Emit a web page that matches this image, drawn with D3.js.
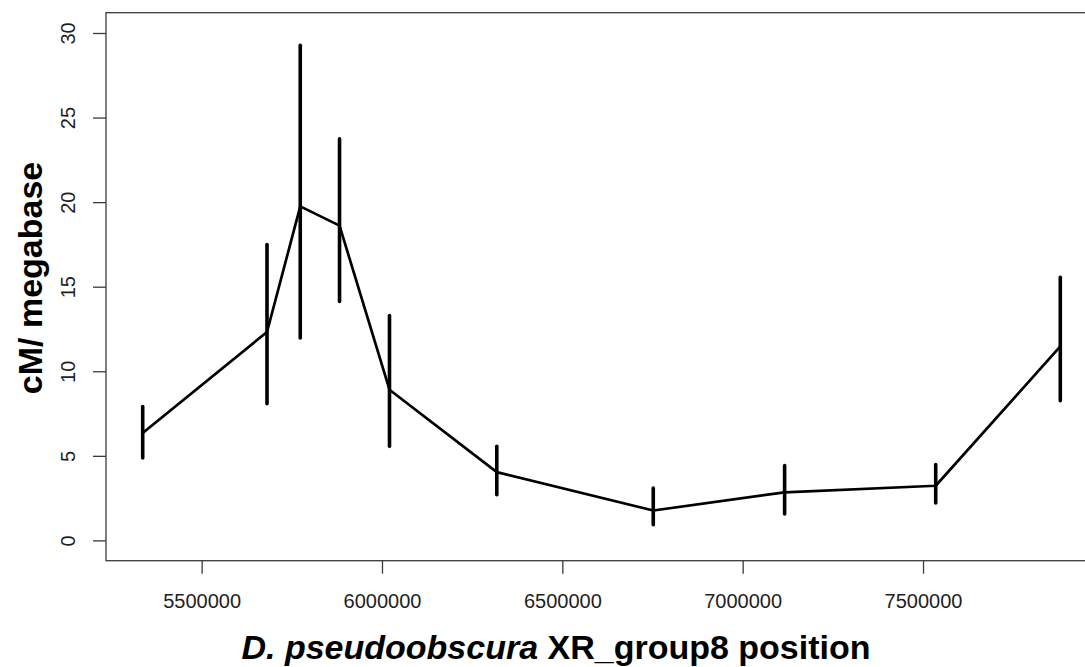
<!DOCTYPE html>
<html>
<head>
<meta charset="utf-8">
<script src="https://cdn.jsdelivr.net/npm/d3@7"></script>
<style>
  body { margin: 0; background: #fff; }
  svg { display: block; font-family: "Liberation Sans", Arial, sans-serif; }
</style>
</head>
<body>
<svg id="chart" width="1085" height="667"></svg>
<script>
// marker positions on XR_group8 (bp)
const positions = [5336600, 5681200, 5773400, 5882300, 6020800, 6318300, 6752100, 7116300, 7535200, 7880600]
// recombination rate, cM per megabase
const rate = [6.35, 12.32, 19.75, 18.61, 8.91, 4.04, 1.77, 2.84, 3.23, 11.47]
// interval ends of the error bars
const lower = [4.87, 8.08, 11.97, 14.13, 5.56, 2.70, 0.93, 1.56, 2.21, 8.26]
const upper = [7.92, 17.49, 29.27, 23.74, 13.29, 5.56, 3.10, 4.42, 4.48, 15.55]

const xTicks = [5500000, 6000000, 6500000, 7000000, 7500000]
const yTicks = [0, 5, 10, 15, 20, 25, 30]
const yLim = [0, 30]

const points = positions.map((p, i) => ({pos: p, rate: rate[i], lo: lower[i], hi: upper[i]}))

const svg = d3.select("#chart")

// plot region, like R's default 4% axis expansion
const plotLeft = 106, plotRight = 1097, plotTop = 12.7, plotBottom = 560.7

const [xMin, xMax] = d3.extent(positions)
const xPad = (xMax - xMin) * 0.04
const x = d3.scaleLinear().domain([xMin - xPad, xMax + xPad]).range([plotLeft, plotRight])

const yPad = (yLim[1] - yLim[0]) * 0.04
const y = d3.scaleLinear().domain([yLim[0] - yPad, yLim[1] + yPad]).range([plotBottom, plotTop])

// box round the plot
svg.append("rect")
  .attr("x", plotLeft)
  .attr("y", plotTop)
  .attr("width", plotRight - plotLeft)
  .attr("height", plotBottom - plotTop)
  .attr("fill", "none")
  .attr("stroke", "#3a3a3a")
  .attr("stroke-width", 1.3)

// x axis
const xAxis = svg.append("g")
  .attr("transform", `translate(0,${plotBottom})`)
  .call(d3.axisBottom(x).tickValues(xTicks).tickFormat(d3.format("d")).tickSize(13).tickSizeOuter(0).tickPadding(20))
xAxis.select(".domain").remove()
xAxis.selectAll("line").attr("stroke", "#3a3a3a").attr("stroke-width", 1.3)
xAxis.selectAll("text")
  .attr("fill", "#1e1e1e")
  .style("font-size", "20px")
  .style("font-family", "'Liberation Sans', Arial, sans-serif")

// y axis, labels turned like R's las=0
const yAxis = svg.append("g")
  .attr("transform", `translate(${plotLeft},0)`)
  .call(d3.axisLeft(y).tickValues(yTicks).tickSize(13).tickSizeOuter(0))
yAxis.select(".domain").remove()
yAxis.selectAll("line").attr("stroke", "#3a3a3a").attr("stroke-width", 1.3)
yAxis.selectAll("text").remove()
yAxis.selectAll(".tick")
  .append("text")
  .attr("transform", `translate(${68 - plotLeft},0) rotate(-90)`)
  .attr("text-anchor", "middle")
  .attr("dominant-baseline", "central")
  .attr("fill", "#1e1e1e")
  .style("font-size", "20px")
  .style("font-family", "'Liberation Sans', Arial, sans-serif")
  .text(d => d)

// connecting line
svg.append("path")
  .datum(points)
  .attr("d", d3.line().x(d => x(d.pos)).y(d => y(d.rate)))
  .attr("fill", "none")
  .attr("stroke", "#000")
  .attr("stroke-width", 2.7)
  .attr("stroke-linejoin", "round")

// vertical error bars
svg.selectAll(".err")
  .data(points)
  .join("line")
  .attr("class", "err")
  .attr("x1", d => x(d.pos))
  .attr("x2", d => x(d.pos))
  .attr("y1", d => y(d.lo))
  .attr("y2", d => y(d.hi))
  .attr("stroke", "#000")
  .attr("stroke-width", 3.6)
  .attr("stroke-linecap", "round")

// axis titles
svg.append("text")
  .attr("transform", `translate(30,278) rotate(-90)`)
  .attr("text-anchor", "middle")
  .attr("dominant-baseline", "central")
  .style("font-size", "34px")
  .style("font-weight", "bold")
  .text("cM/ megabase")

const xTitle = svg.append("text")
  .attr("x", 556)
  .attr("y", 659)
  .attr("text-anchor", "middle")
  .style("font-size", "34px")
  .style("font-weight", "bold")
xTitle.append("tspan").style("font-style", "italic").text("D. pseudoobscura")
xTitle.append("tspan").text(" XR_group8 position")
</script>
</body>
</html>
